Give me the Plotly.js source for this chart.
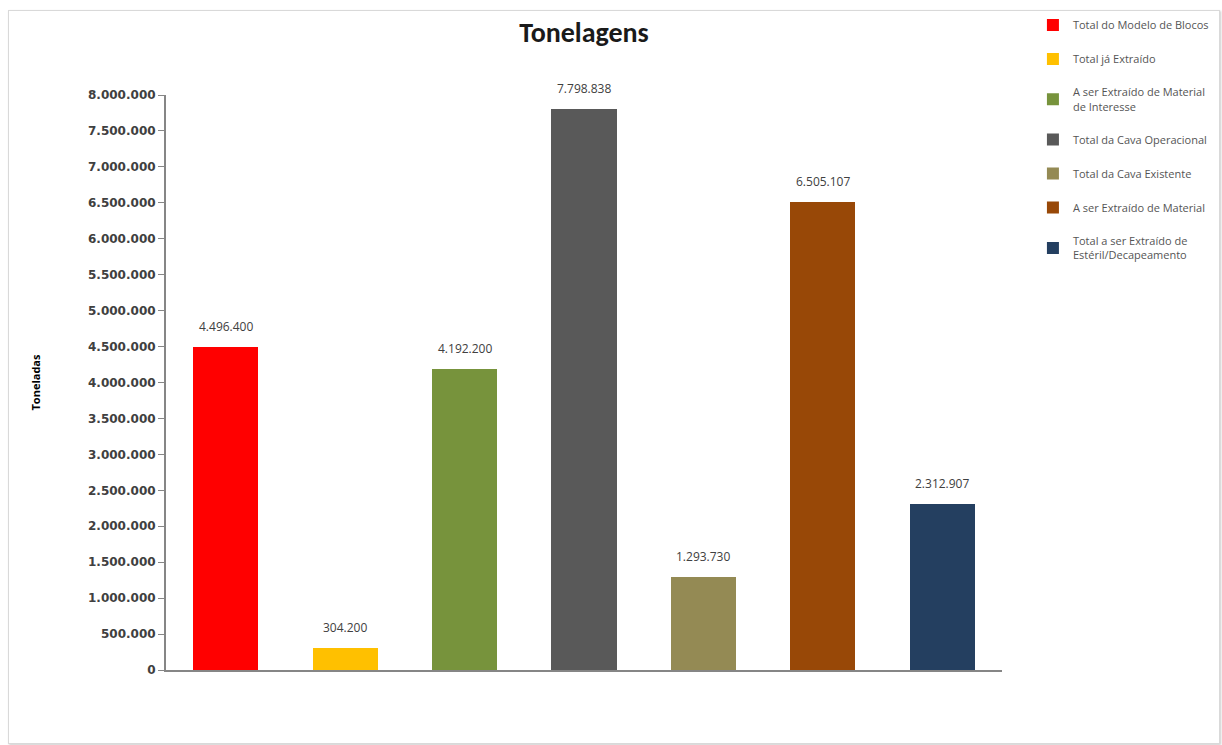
<!DOCTYPE html>
<html>
<head>
<meta charset="utf-8">
<script src="https://cdn.plot.ly/plotly-3.0.1.min.js"></script>
<style>
html,body{margin:0;padding:0;background:#fff;}
#chart{width:1222px;height:745px;}
#frame{position:absolute;left:8px;top:10px;width:1210px;height:732px;border:1px solid #d9d9d9;box-shadow:1px 1px 2px #ccc;pointer-events:none;}
</style>
</head>
<body>
<div id="chart"></div>
<div id="frame"></div>
<script>
const categories = [
  "Total do Modelo de Blocos",
  "Total já Extraído",
  "A ser Extraído de Material<br>de Interesse",
  "Total da Cava Operacional",
  "Total da Cava Existente",
  "A ser Extraído de Material",
  "Total a ser Extraído de<br>Estéril/Decapeamento"
];
const values = [4496400, 304200, 4192200, 7798838, 1293730, 6505107, 2312907];
const valueLabels = ["4.496.400", "304.200", "4.192.200", "7.798.838", "1.293.730", "6.505.107", "2.312.907"];
const colors = ["#FF0000", "#FFC000", "#77933C", "#595959", "#948A54", "#984807", "#243F60"];
const tickVals = [0,500000,1000000,1500000,2000000,2500000,3000000,3500000,4000000,4500000,5000000,5500000,6000000,6500000,7000000,7500000,8000000];

const traces = categories.map((c, i) => ({
  type: 'bar',
  name: c,
  x: [i],
  y: [values[i]],
  marker: {color: colors[i]},
  width: 0.545,
  legendgroup: 'g' + i,
  hoverinfo: 'y'
}));

const annotations = values.map((v, i) => ({
  x: i, y: v, xref: 'x', yref: 'y',
  text: valueLabels[i], showarrow: false,
  yanchor: 'bottom', yshift: 10,
  font: {family: '"Open Sans", sans-serif', size: 12, color: '#404040'}
}));

const layout = {
  width: 1222, height: 745,
  margin: {l: 166, r: 220, t: 95, b: 75, autoexpand: false},
  paper_bgcolor: '#fff', plot_bgcolor: '#fff',
  separators: ',.',
  font: {family: 'Carlito, Calibri, "Liberation Sans", sans-serif', color: '#404040'},
  title: {text: '<b>Tonelagens</b>', x: 0.5, xref: 'paper', y: 0.957, yanchor: 'middle',
          font: {size: 28, color: '#1a1a1a', family: 'Carlito, Calibri, "Open Sans", sans-serif'}},
  barmode: 'overlay',
  annotations: annotations,
  xaxis: {range: [-0.5, 6.5], showticklabels: false, ticks: '', showgrid: false, zeroline: false,
          showline: true, linecolor: '#868686', linewidth: 2, fixedrange: true, automargin: false},
  yaxis: {range: [0, 8000000], tickvals: tickVals, tickformat: ',d', ticks: 'outside', ticklen: 6,
          tickcolor: '#868686', showline: true, linecolor: '#868686', linewidth: 2, showgrid: false, zeroline: false,
          tickfont: {size: 12, color: '#404040', family: '"DejaVu Sans", sans-serif', weight: 'bold'},
          title: {text: '<b>Toneladas</b>', standoff: 45, font: {size: 11, color: '#000', family: '"Open Sans", sans-serif'}},
          automargin: false},
  showlegend: true,
  legend: {x: 1.037, xanchor: 'left', y: 1.147, yanchor: 'top', tracegroupgap: 15,
           font: {size: 11, color: '#555', family: '"Open Sans", sans-serif'}, itemwidth: 30, bgcolor: 'rgba(0,0,0,0)'},
  bargap: 0
};

Plotly.newPlot('chart', traces, layout, {displayModeBar: false, staticPlot: true});
</script>
</body>
</html>
